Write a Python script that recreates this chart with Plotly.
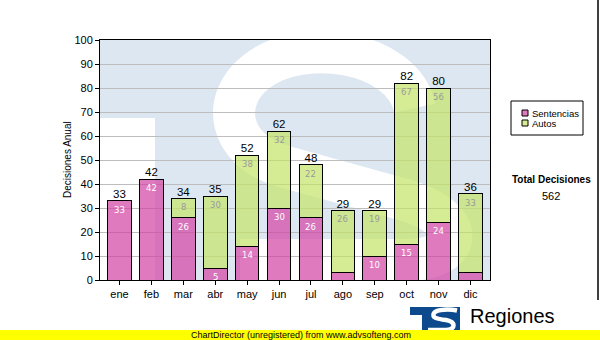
import plotly.graph_objects as go

# Monthly decisions, split by type
meses = ["ene", "feb", "mar", "abr", "may", "jun", "jul", "ago", "sep", "oct", "nov", "dic"]
sentencias = [33, 42, 26, 5, 14, 30, 26, 3, 10, 15, 24, 3]
autos = [0, 0, 8, 30, 38, 32, 22, 26, 19, 67, 56, 33]
nombres = ["Sentencias", "Autos"]
y_ticks = list(range(0, 101, 10))
titulo_y = "Decisiones Anual"
titulo_total = "Total Decisiones"
marca = "Regiones"
pie = "ChartDirector (unregistered) from www.advsofteng.com"

totales = [s + a for s, a in zip(sentencias, autos)]
total_general = sum(totales)

W, H = 600, 340
L, R, T, B = 100, 490, 40, 280  # plot box in pixels


def pp(x, y):
    """pixel position -> paper coordinates"""
    return (x - L) / (R - L), (B - y) / (B - T)


def path(cmds):
    out = []
    for cmd, pts in cmds:
        coords = " ".join("%.4f,%.4f" % pp(x, y) for x, y in pts)
        out.append(cmd + " " + coords if coords else cmd)
    return " ".join(out)


ROSA = "rgba(211,65,162,0.70)"
VERDE = "rgba(196,228,102,0.70)"
SANS = "Liberation Sans, Arial, sans-serif"
VERD = "DejaVu Sans, Verdana, sans-serif"

fig = go.Figure()

fig.add_bar(x=meses, y=sentencias, name=nombres[0],
            marker=dict(color=ROSA, line=dict(color="black", width=1)))
fig.add_bar(x=meses, y=[a if a > 0 else None for a in autos], name=nombres[1],
            marker=dict(color=VERDE, line=dict(color="black", width=1)))

# totals above the stacks
fig.add_scatter(x=meses, y=totales, mode="text",
                text=[str(t) for t in totales],
                textposition="top center",
                textfont=dict(family=SANS, size=11.5, color="black"),
                hoverinfo="skip", cliponaxis=False)

annotations = []
# value labels inside each segment, just under its top edge
for m, s, a, t in zip(meses, sentencias, autos, totales):
    if s >= 5:
        annotations.append(dict(x=m, y=s, xref="x", yref="y", text=str(s), showarrow=False,
                                yanchor="top", yshift=-2,
                                font=dict(family=VERD, size=8.5, color="white")))
    if a > 0:
        annotations.append(dict(x=m, y=t, xref="x", yref="y", text=str(a), showarrow=False,
                                yanchor="top", yshift=-2,
                                font=dict(family=VERD, size=8.5, color="#9a9a9a")))

shapes = []
# faint logo watermark behind the grid
shapes.append(dict(type="rect", xref="paper", yref="paper", layer="below",
                   x0=0, x1=1, y0=0, y1=1, fillcolor="#dde7f1", line=dict(width=0)))
x0, y0 = pp(L, 118)
x1, y1 = pp(155, B)
shapes.append(dict(type="rect", xref="paper", yref="paper", layer="below",
                   x0=x0, x1=x1, y0=y1, y1=y0, fillcolor="white", line=dict(width=0)))
s_path = path([
    ("M", [(415, 108)]),
    ("C", [(402, 50), (300, 36), (256, 72)]),
    ("C", [(220, 100), (228, 150), (282, 166)]),
    ("L", [(405, 200)]),
    ("C", [(472, 220), (462, 262), (402, 260)]),
    ("L", [(240, 260)]),
])
shapes.append(dict(type="path", xref="paper", yref="paper", layer="below",
                   path=s_path, line=dict(color="white", width=42)))

# legend box
lx0, ly0 = pp(511, 101)
lx1, ly1 = pp(583, 135)
shapes.append(dict(type="rect", xref="paper", yref="paper", x0=lx0, x1=lx1, y0=ly1, y1=ly0,
                   fillcolor="white", line=dict(color="black", width=1)))
for i, (nombre, col) in enumerate(zip(nombres, [ROSA, VERDE])):
    cy = 113 + 10 * i
    a0, b0 = pp(522, cy - 3)
    a1, b1 = pp(528, cy + 3)
    shapes.append(dict(type="rect", xref="paper", yref="paper", x0=a0, x1=a1, y0=b1, y1=b0,
                       fillcolor=col, line=dict(color="black", width=1)))
    tx, ty = pp(529.5, cy)
    annotations.append(dict(xref="paper", yref="paper", x=tx, y=ty, text=nombre,
                            xanchor="left", yanchor="middle", showarrow=False,
                            font=dict(family=SANS, size=9.5, color="black")))

# total of the year
tx, ty = pp(551, 179)
annotations.append(dict(xref="paper", yref="paper", x=tx, y=ty, text="<b>%s</b>" % titulo_total,
                        xanchor="center", yanchor="middle", showarrow=False,
                        font=dict(family=SANS, size=10, color="black")))
tx, ty = pp(551, 196)
annotations.append(dict(xref="paper", yref="paper", x=tx, y=ty, text=str(total_general),
                        xanchor="center", yanchor="middle", showarrow=False,
                        font=dict(family=SANS, size=11, color="black")))

# y title
tx, ty = pp(67, 160)
annotations.append(dict(xref="paper", yref="paper", x=tx, y=ty, text=titulo_y, textangle=-90,
                        xanchor="center", yanchor="middle", showarrow=False,
                        font=dict(family=SANS, size=10, color="black")))

# right frame line
fx, fy0 = pp(598, 0)
_, fy1 = pp(598, 300)
shapes.append(dict(type="line", xref="paper", yref="paper", x0=fx, x1=fx, y0=fy1, y1=fy0,
                   line=dict(color="black", width=1.5)))

# brand logo: blue block with white S
logo = path([
    ("M", [(410, 307)]),
    ("L", [(460, 307)]),
    ("L", [(460, 331)]),
    ("L", [(422, 331)]),
    ("L", [(422, 315)]),
    ("L", [(410, 315)]),
    ("Z", []),
])
shapes.append(dict(type="path", xref="paper", yref="paper", path=logo,
                   fillcolor="#0c4a8d", line=dict(width=0)))
logo_s = path([
    ("M", [(457, 310.5)]),
    ("C", [(450, 309), (437, 309), (434, 313)]),
    ("C", [(431, 318), (438, 319), (446, 320)]),
    ("C", [(456, 322), (456, 329), (446, 330)]),
    ("L", [(428, 330)]),
])
shapes.append(dict(type="path", xref="paper", yref="paper", path=logo_s,
                   line=dict(color="white", width=4.5)))
tx, ty = pp(468, 316)
annotations.append(dict(xref="paper", yref="paper", x=tx, y=ty, text=marca,
                        xanchor="left", yanchor="middle", showarrow=False,
                        font=dict(family=SANS, size=20, color="black")))

# yellow footer strip
a0, b0 = pp(0, 330)
a1, b1 = pp(W, H)
shapes.append(dict(type="rect", xref="paper", yref="paper", x0=a0, x1=a1, y0=b1, y1=b0,
                   fillcolor="#ffff00", line=dict(width=0), layer="above"))
tx, ty = pp(301, 335)
annotations.append(dict(xref="paper", yref="paper", x=tx, y=ty, text=pie,
                        xanchor="center", yanchor="middle", showarrow=False,
                        font=dict(family=SANS, size=9, color="black")))

fig.update_layout(
    width=W, height=H,
    margin=dict(l=L, r=W - R, t=T, b=H - B, pad=0),
    paper_bgcolor="white", plot_bgcolor="rgba(0,0,0,0)",
    barmode="stack", bargap=0.26,
    showlegend=False,
    shapes=shapes, annotations=annotations,
    xaxis=dict(type="category", showline=True, linecolor="black", linewidth=1, mirror=True,
               ticks="outside", ticklen=4, tickcolor="black", showgrid=False,
               tickfont=dict(family=SANS, size=11, color="black")),
    yaxis=dict(range=[0, 100], tickvals=y_ticks, showline=True, linecolor="black", linewidth=1,
               mirror=True, ticks="outside", ticklen=4, tickcolor="black",
               showgrid=True, gridcolor="#bdbdbd", gridwidth=1, zeroline=False,
               tickfont=dict(family=SANS, size=11, color="black")),
)

fig.write_html("out.html")
